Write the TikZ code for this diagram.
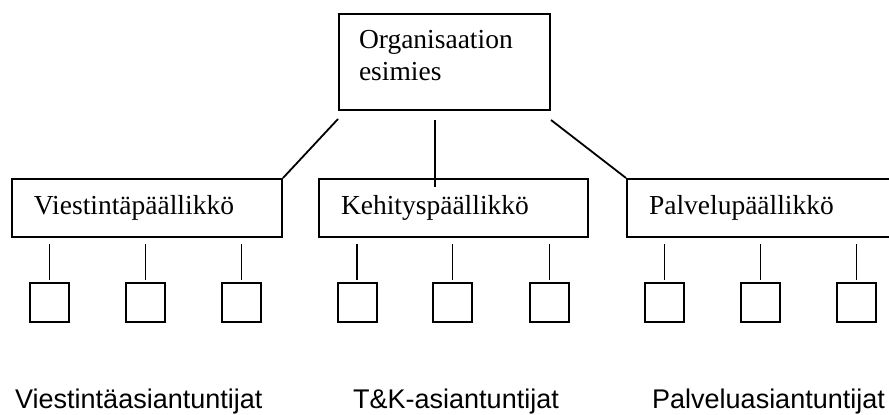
\documentclass[tikz,border=0pt]{standalone}
\usepackage{fontspec}
\setmainfont{Liberation Serif}
\setsansfont{Liberation Sans}
\begin{document}
\begin{tikzpicture}[x=1pt,y=-1pt,
  orgbox/.style={draw, line width=2pt, anchor=north west, align=left,
    inner ysep=0pt, font=\fontsize{27.5}{32}\selectfont},
  unitbox/.style={draw, line width=2pt, minimum size=39pt, inner sep=0pt},
  link/.style={line width=1.8pt},
  group/.style={anchor=base west, inner sep=0pt,
    font=\sffamily\fontsize{27}{30}\selectfont}]
\useasboundingbox (0,0) rectangle (889,415);
\clip (0,0) rectangle (889,415);

% head of the organisation
\node[orgbox, text width=171pt, inner xsep=20pt, minimum height=96pt]
  (top) at (338,13) {Organisaation\\esimies\rule[-14pt]{0pt}{0pt}};

% managers
\node[orgbox, text width=226pt, inner xsep=22pt, minimum height=58pt]
  (v) at (11,178) {Viestintäpäällikkö};
\node[orgbox, text width=225pt, inner xsep=22pt, minimum height=58pt]
  (k) at (318,178) {Kehityspäällikkö};
\node[orgbox, text width=226pt, inner xsep=22pt, minimum height=58pt]
  (p) at (626,178) {Palvelupäällikkö};

% links from the head to the managers
\draw[link] ([yshift=-8pt]top.south west) -- (v.north east);
\draw[link] ([shift={(-9.5,9)}]top.south) -- ([shift={(-9.5,9)}]top.south |- k.north);
\draw[link] ([yshift=-9pt]top.south east) -- (p.north west);

% experts under each manager
\foreach \n/\x in {v1/49.5, v2/145.5, v3/241.5,
                   k1/357, k2/452.5, k3/549.5,
                   p1/664.5, p2/760.5, p3/856.5}
  \node[unitbox] (\n) at (\x,302.5) {};

\foreach \m in {v,k,p}
  \foreach \i in {1,2,3}
    \draw[link, shorten <=6pt, shorten >=2pt] (\m.south -| \m\i.north) -- (\m\i.north);

% group labels
\node[group] (gv) at (15,408) {Viestintäasiantuntijat};
\node[group] (gk) at (353,408) {T\&K-asiantuntijat};
\node[group] (gp) at (652,408) {Palveluasiantuntijat};
\end{tikzpicture}
\end{document}
